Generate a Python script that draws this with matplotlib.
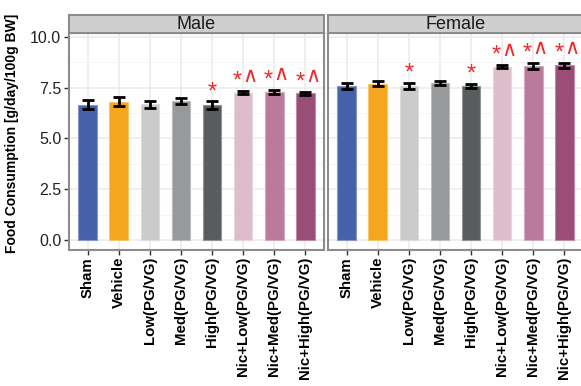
import matplotlib
matplotlib.use("Agg")
import matplotlib.pyplot as plt
import numpy as np

plt.rcParams['font.family'] = ['Liberation Sans', 'DejaVu Sans']

# groups and values
groups = ['Sham', 'Vehicle', 'Low(PG/VG)', 'Med(PG/VG)', 'High(PG/VG)',
          'Nic+Low(PG/VG)', 'Nic+Med(PG/VG)', 'Nic+High(PG/VG)']
colors = ['#4561AA', '#F5A61C', '#CBCBCB', '#97999B', '#595C5C',
          '#DEBDCB', '#BA7A9C', '#9A4D76']

male_mean = [6.65, 6.80, 6.67, 6.82, 6.62, 7.25, 7.28, 7.22]
male_se = [0.22, 0.22, 0.17, 0.15, 0.20, 0.08, 0.12, 0.08]
male_sig = ['', '', '', '', '*', '*^', '*^', '*^']

female_mean = [7.58, 7.68, 7.58, 7.72, 7.58, 8.53, 8.57, 8.59]
female_se = [0.14, 0.12, 0.14, 0.09, 0.11, 0.09, 0.14, 0.12]
female_sig = ['', '', '*', '', '*', '*^', '*^', '*^']

panels = [('Male', male_mean, male_se, male_sig),
          ('Female', female_mean, female_se, female_sig)]

W, H = 581, 386
fig = plt.figure(figsize=(W / 100, H / 100), dpi=100)

def lighten(c, f=0.35):
    rgb = np.array(matplotlib.colors.to_rgb(c))
    return tuple(rgb + (1 - rgb) * f)

red = '#EE2A2A'
lefts = [69, 328]
pw = 255
pb, pt = 250, 33
for i, (name, mean, se, sig) in enumerate(panels):
    x0 = lefts[i]
    ax = fig.add_axes([x0 / W, (H - pb) / H, pw / W, (pb - pt) / H])
    sax = fig.add_axes([x0 / W, (H - pt) / H, pw / W, 18 / H])

    x = np.arange(len(groups))
    ax.bar(x, mean, width=0.6, color=colors,
           edgecolor=[lighten(c) for c in colors], linewidth=0.8, zorder=3)
    ax.errorbar(x, mean, yerr=se, fmt='none', ecolor='black', elinewidth=2,
                capsize=4, capthick=2, zorder=4)
    for xi, m, s, t in zip(x, mean, se, sig):
        if not t:
            continue
        if '^' in t:
            ax.annotate('*', (xi, m + s + 0.15), xytext=(-1, 0),
                        textcoords='offset pixels', color=red, fontsize=17,
                        ha='right', va='baseline', zorder=5)
            ax.annotate('\u2227', (xi, m + s + 0.45), xytext=(-0.5, 0),
                        textcoords='offset pixels', color=red, fontsize=15,
                        family='DejaVu Sans', ha='left', va='baseline',
                        zorder=5)
        else:
            ax.annotate('*', (xi, m + s + 0.15), xytext=(0, 0),
                        textcoords='offset pixels', color=red, fontsize=17,
                        ha='center', va='baseline', zorder=5)

    ax.set_xlim(-0.6, 7.6)
    ax.set_ylim(-0.49, 10.18)
    ax.set_facecolor('white')
    ax.set_yticks([0, 2.5, 5, 7.5, 10])
    ax.set_yticks([1.25, 3.75, 6.25, 8.75], minor=True)
    ax.grid(which='major', color='#EBEBEB', linewidth=1.1, zorder=0)
    ax.grid(which='minor', axis='y', color='#F4F4F4', linewidth=0.6, zorder=0)
    ax.set_xticks(x)
    ax.set_xticklabels(groups, rotation=90, fontsize=10.8, fontweight='bold')
    ax.tick_params(axis='x', length=3.5, width=1, color='#333333', pad=1.5)
    ax.tick_params(axis='y', which='minor', length=0)
    if i == 0:
        ax.set_yticklabels(['0.0', '2.5', '5.0', '7.5', '10.0'])
        ax.tick_params(axis='y', length=3.5, width=1, color='#333333',
                       labelsize=11.5, labelcolor='#222222', pad=2)
    else:
        ax.tick_params(axis='y', length=0, labelleft=False)
    for sp in ax.spines.values():
        sp.set_color('#8C8C8C')
        sp.set_linewidth(1.5)

    sax.set_facecolor('#CFCFCF')
    sax.set_xticks([])
    sax.set_yticks([])
    for sp in sax.spines.values():
        sp.set_color('#8C8C8C')
        sp.set_linewidth(1.5)
    sax.text(0.5, 0.45, name, transform=sax.transAxes, ha='center',
             va='center', fontsize=13, color='#1A1A1A')

fig.text(12 / W, 1 - 133 / H, 'Food Consumption [g/day/100g BW]',
         rotation=90, ha='center', va='center', fontsize=10, fontweight='bold')

fig.savefig('out.png', dpi=100)
